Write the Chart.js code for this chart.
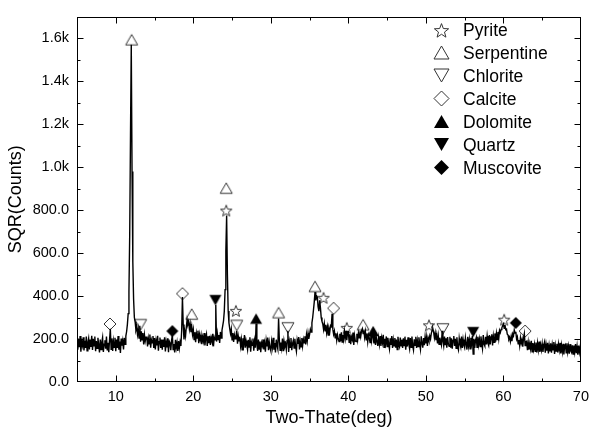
<!DOCTYPE html>
<html>
<head>
<meta charset="utf-8">
<script src="https://cdn.jsdelivr.net/npm/chart.js@4/dist/chart.umd.min.js"></script>
<style>
  html, body { margin: 0; padding: 0; background: #fff; }
</style>
</head>
<body>
<canvas id="xrd" width="595" height="430"></canvas>
<script>
// scan runs 5..70 deg in 0.1 deg steps
const thetaStart = 5
const thetaStep = 0.1
const counts = [
  205, 150, 196, 162, 214, 141, 188, 170, 208, 147, // 5
  192, 158, 211, 145, 184, 203, 152, 197, 163, 215, // 6
  149, 201, 168, 212, 143, 190, 157, 206, 172, 138, // 7
  198, 151, 185, 207, 140, 176, 194, 155, 211, 147, // 8
  182, 139, 196, 248, 152, 203, 145, 190, 161, 206, // 9
  143, 197, 158, 214, 150, 188, 135, 202, 169, 192, // 10
  152, 205, 176, 214, 235, 268, 318, 420, 690, 1150, // 11
  1570, 980, 560, 385, 300, 280, 242, 256, 221, 247, // 12
  205, 262, 188, 236, 196, 228, 175, 219, 190, 209, // 13
  212, 166, 203, 178, 221, 160, 196, 183, 214, 158, // 14
  205, 151, 193, 170, 215, 146, 188, 207, 158, 198, // 15
  150, 197, 163, 208, 142, 186, 161, 203, 139, 190, // 16
  182, 148, 195, 218, 151, 177, 138, 196, 160, 184, // 17
  145, 190, 158, 186, 168, 240, 395, 268, 198, 236, // 18
  214, 256, 290, 268, 281, 246, 270, 232, 258, 221, // 19
  244, 198, 232, 185, 226, 204, 239, 181, 220, 196, // 20
  218, 176, 209, 190, 228, 170, 204, 222, 168, 213, // 21
  181, 215, 172, 206, 190, 224, 166, 208, 196, 360, // 22
  188, 226, 197, 219, 182, 233, 205, 241, 262, 285, // 23
  330, 430, 610, 775, 500, 330, 275, 248, 225, 246, // 24
  196, 228, 186, 219, 201, 210, 238, 178, 214, 192, // 25
  211, 168, 197, 150, 204, 175, 218, 160, 193, 172, // 26
  150, 196, 163, 208, 141, 185, 171, 202, 146, 190, // 27
  160, 272, 174, 145, 197, 153, 188, 139, 182, 168, // 28
  198, 152, 180, 141, 193, 166, 207, 148, 185, 159, // 29
  145, 189, 162, 206, 150, 181, 138, 197, 171, 154, // 30
  295, 196, 147, 184, 158, 202, 143, 190, 165, 178, // 31
  150, 193, 238, 140, 187, 162, 205, 148, 179, 194, // 32
  158, 201, 166, 143, 196, 177, 209, 152, 188, 164, // 33
  205, 168, 199, 182, 213, 175, 220, 192, 228, 201, // 34
  222, 245, 232, 275, 300, 335, 372, 418, 380, 402, // 35
  395, 350, 330, 380, 345, 300, 282, 270, 245, 272, // 36
  238, 266, 229, 255, 218, 248, 232, 262, 258, 318, // 37
  245, 222, 238, 206, 227, 194, 219, 201, 188, 224, // 38
  190, 231, 186, 220, 198, 236, 204, 238, 195, 232, // 39
  234, 185, 222, 176, 210, 197, 230, 172, 215, 190, // 40
  188, 224, 196, 228, 206, 236, 212, 238, 248, 226, // 41
  240, 208, 234, 196, 226, 187, 219, 205, 184, 220, // 42
  192, 231, 214, 180, 218, 173, 210, 190, 168, 206, // 43
  176, 214, 168, 205, 183, 220, 162, 201, 178, 212, // 44
  165, 206, 177, 154, 203, 172, 214, 158, 196, 169, // 45
  205, 160, 198, 151, 210, 174, 163, 207, 168, 197, // 46
  158, 203, 170, 211, 150, 196, 165, 208, 176, 155, // 47
  204, 161, 212, 168, 149, 199, 171, 210, 158, 193, // 48
  165, 208, 176, 152, 213, 180, 160, 204, 171, 211, // 49
  179, 210, 168, 205, 192, 214, 200, 226, 240, 248, // 50
  232, 206, 228, 195, 219, 180, 214, 176, 206, 188, // 51
  172, 238, 190, 168, 212, 171, 203, 160, 209, 176, // 52
  166, 210, 160, 203, 155, 194, 214, 168, 201, 157, // 53
  208, 164, 150, 203, 177, 162, 212, 158, 198, 172, // 54
  160, 205, 176, 151, 210, 168, 197, 154, 206, 180, // 55
  214, 130, 201, 158, 194, 207, 162, 211, 173, 199, // 56
  165, 212, 181, 156, 219, 177, 168, 210, 175, 214, // 57
  181, 170, 218, 175, 210, 222, 170, 214, 185, 226, // 58
  188, 226, 198, 233, 202, 240, 230, 244, 252, 262, // 59
  270, 250, 266, 244, 246, 222, 218, 198, 206, 188, // 60
  212, 190, 224, 215, 242, 228, 234, 200, 210, 178, // 61
  196, 168, 205, 181, 198, 164, 206, 225, 170, 188, // 62
  190, 148, 184, 150, 178, 155, 192, 140, 181, 152, // 63
  176, 143, 184, 137, 180, 150, 188, 140, 172, 149, // 64
  178, 140, 170, 185, 136, 175, 146, 182, 133, 170, // 65
  142, 180, 136, 174, 150, 186, 131, 170, 144, 178, // 66
  138, 176, 149, 182, 133, 170, 141, 178, 128, 168, // 67
  174, 136, 180, 140, 166, 132, 176, 145, 137, 171, // 68
  130, 170, 140, 176, 134, 166, 127, 170, 139, 163, // 69
  148 // 70
]

// phase markers (2theta, height of symbol)
const pyriteTheta = [24.25, 25.5, 36.8, 39.8, 50.4, 60.1]
const pyriteCounts = [798, 331, 392, 252, 264, 290]
const serpentineTheta = [12.05, 19.8, 24.25, 31.0, 35.7, 41.9]
const serpentineCounts = [1593, 316, 902, 323, 445, 267]
const chloriteTheta = [13.2, 25.6, 32.2, 52.2]
const chloriteCounts = [267, 263, 252, 247]
const calciteTheta = [9.25, 18.6, 38.1, 62.8]
const calciteCounts = [270, 411, 343, 237]
const dolomiteTheta = [28.1, 43.2]
const dolomiteCounts = [295, 237]
const quartzTheta = [22.85, 56.1]
const quartzCounts = [381, 232]
const muscoviteTheta = [17.3, 61.6]
const muscoviteCounts = [237, 275]

const xTicks = [10, 20, 30, 40, 50, 60, 70]
const yTicks = [0, 200, 400, 600, 800, 1000, 1200, 1400, 1600]
const yTickLabels = ['0.0', '200.0', '400.0', '600.0', '800.0', '1.0k', '1.2k', '1.4k', '1.6k']

const FONT = "'Liberation Sans', Arial, sans-serif"

function makeMarker (shape, filled, size) {
  const s = size + 4
  const c = document.createElement('canvas')
  c.width = s
  c.height = s
  const ctx = c.getContext('2d')
  const m = s / 2
  const r = size / 2
  const h = r * 1.732
  ctx.beginPath()
  if (shape === 'star') {
    for (let i = 0; i < 10; i++) {
      const rr = i % 2 ? r * 0.42 : r
      const a = -Math.PI / 2 + i * Math.PI / 5
      ctx.lineTo(m + rr * Math.cos(a), m + 0.6 + rr * Math.sin(a))
    }
  } else if (shape === 'up') {
    ctx.moveTo(m, m - h / 2)
    ctx.lineTo(m + r, m + h / 2)
    ctx.lineTo(m - r, m + h / 2)
  } else if (shape === 'down') {
    ctx.moveTo(m - r, m - h / 2)
    ctx.lineTo(m + r, m - h / 2)
    ctx.lineTo(m, m + h / 2)
  } else {
    ctx.moveTo(m, m - r)
    ctx.lineTo(m + r, m)
    ctx.lineTo(m, m + r)
    ctx.lineTo(m - r, m)
  }
  ctx.closePath()
  if (filled) {
    ctx.fillStyle = '#000'
    ctx.fill()
  } else {
    ctx.strokeStyle = '#333'
    ctx.lineWidth = 1
    ctx.stroke()
  }
  return c
}

const phases = [
  { label: 'Pyrite', theta: pyriteTheta, counts: pyriteCounts, shape: 'star', filled: false },
  { label: 'Serpentine', theta: serpentineTheta, counts: serpentineCounts, shape: 'up', filled: false },
  { label: 'Chlorite', theta: chloriteTheta, counts: chloriteCounts, shape: 'down', filled: false },
  { label: 'Calcite', theta: calciteTheta, counts: calciteCounts, shape: 'diamond', filled: false },
  { label: 'Dolomite', theta: dolomiteTheta, counts: dolomiteCounts, shape: 'up', filled: true },
  { label: 'Quartz', theta: quartzTheta, counts: quartzCounts, shape: 'down', filled: true },
  { label: 'Muscovite', theta: muscoviteTheta, counts: muscoviteCounts, shape: 'diamond', filled: true }
]
phases.forEach(p => {
  p.icon = makeMarker(p.shape, p.filled, 12)
  p.legendIcon = makeMarker(p.shape, p.filled, 15)
})

const scan = counts.map((c, i) => ({ x: +(thetaStart + i * thetaStep).toFixed(1), y: c }))

const datasets = [{
  label: 'scan',
  data: scan,
  borderColor: '#000',
  borderWidth: 1.4,
  pointRadius: 0,
  tension: 0,
  showLine: true
}].concat(phases.map(p => ({
  label: p.label,
  data: p.theta.map((t, i) => ({ x: t, y: p.counts[i] })),
  showLine: false,
  pointStyle: p.icon,
  pointRadius: 7
})))

// axis frame on four sides with inward ticks
const frameTicks = {
  id: 'frameTicks',
  afterDraw (chart) {
    const { ctx, chartArea: a, scales: { x, y } } = chart
    const L = Math.round(a.left) + 0.5
    const R = Math.round(a.right) - 0.5
    const T = Math.round(a.top) + 0.5
    const B = Math.round(a.bottom) - 0.5
    ctx.save()
    ctx.strokeStyle = '#000'
    ctx.lineWidth = 1
    ctx.strokeRect(L, T, R - L, B - T)
    ctx.beginPath()
    for (let v = 10; v < 70; v += 5) {
      const len = v % 10 === 0 ? 6 : 3
      const px = Math.round(x.getPixelForValue(v)) + 0.5
      ctx.moveTo(px, B); ctx.lineTo(px, B - len)
      ctx.moveTo(px, T); ctx.lineTo(px, T + len)
    }
    for (let v = 100; v < 1700; v += 100) {
      const len = v % 200 === 0 ? 6 : 3
      const py = Math.round(y.getPixelForValue(v)) + 0.5
      ctx.moveTo(L, py); ctx.lineTo(L + len, py)
      ctx.moveTo(R, py); ctx.lineTo(R - len, py)
    }
    ctx.stroke()
    ctx.restore()
  }
}

const phaseLegend = {
  id: 'phaseLegend',
  afterDraw (chart) {
    const { ctx } = chart
    ctx.save()
    ctx.fillStyle = '#000'
    ctx.font = '17.5px ' + FONT
    ctx.textBaseline = 'middle'
    ctx.textAlign = 'left'
    phases.forEach((p, i) => {
      const cy = 30 + i * 22.9
      const img = p.legendIcon
      ctx.drawImage(img, Math.round(441.5 - img.width / 2), Math.round(cy - img.height / 2))
      ctx.fillText(p.label, 463, cy + 1.5)
    })
    ctx.restore()
  }
}

new Chart(document.getElementById('xrd').getContext('2d'), {
  type: 'scatter',
  data: { datasets },
  options: {
    responsive: false,
    animation: false,
    devicePixelRatio: 1,
    layout: { padding: { top: 8, right: 8, left: 0, bottom: 0 } },
    plugins: {
      legend: { display: false },
      tooltip: { enabled: false }
    },
    scales: {
      x: {
        type: 'linear',
        min: 5,
        max: 70,
        afterBuildTicks: s => { s.ticks = xTicks.map(v => ({ value: v })) },
        afterFit: s => { s.height = 48 },
        grid: { display: false, drawTicks: false },
        border: { display: false },
        ticks: {
          color: '#000',
          padding: 6,
          maxRotation: 0,
          font: { family: FONT, size: 14.5 }
        },
        title: {
          display: true,
          text: 'Two-Thate(deg)',
          color: '#000',
          padding: { top: 0, bottom: 1 },
          font: { family: FONT, size: 18 }
        }
      },
      y: {
        type: 'linear',
        min: 0,
        max: 1700,
        afterBuildTicks: s => { s.ticks = yTicks.map(v => ({ value: v })) },
        afterFit: s => { s.width = 77 },
        grid: { display: false, drawTicks: false },
        border: { display: false },
        ticks: {
          color: '#000',
          padding: 8,
          font: { family: FONT, size: 14.5 },
          callback: (v, i) => yTickLabels[i]
        },
        title: {
          display: true,
          text: 'SQR(Counts)',
          color: '#000',
          padding: { top: 5, bottom: 0 },
          font: { family: FONT, size: 18 }
        }
      }
    }
  },
  plugins: [frameTicks, phaseLegend]
})
</script>
</body>
</html>
